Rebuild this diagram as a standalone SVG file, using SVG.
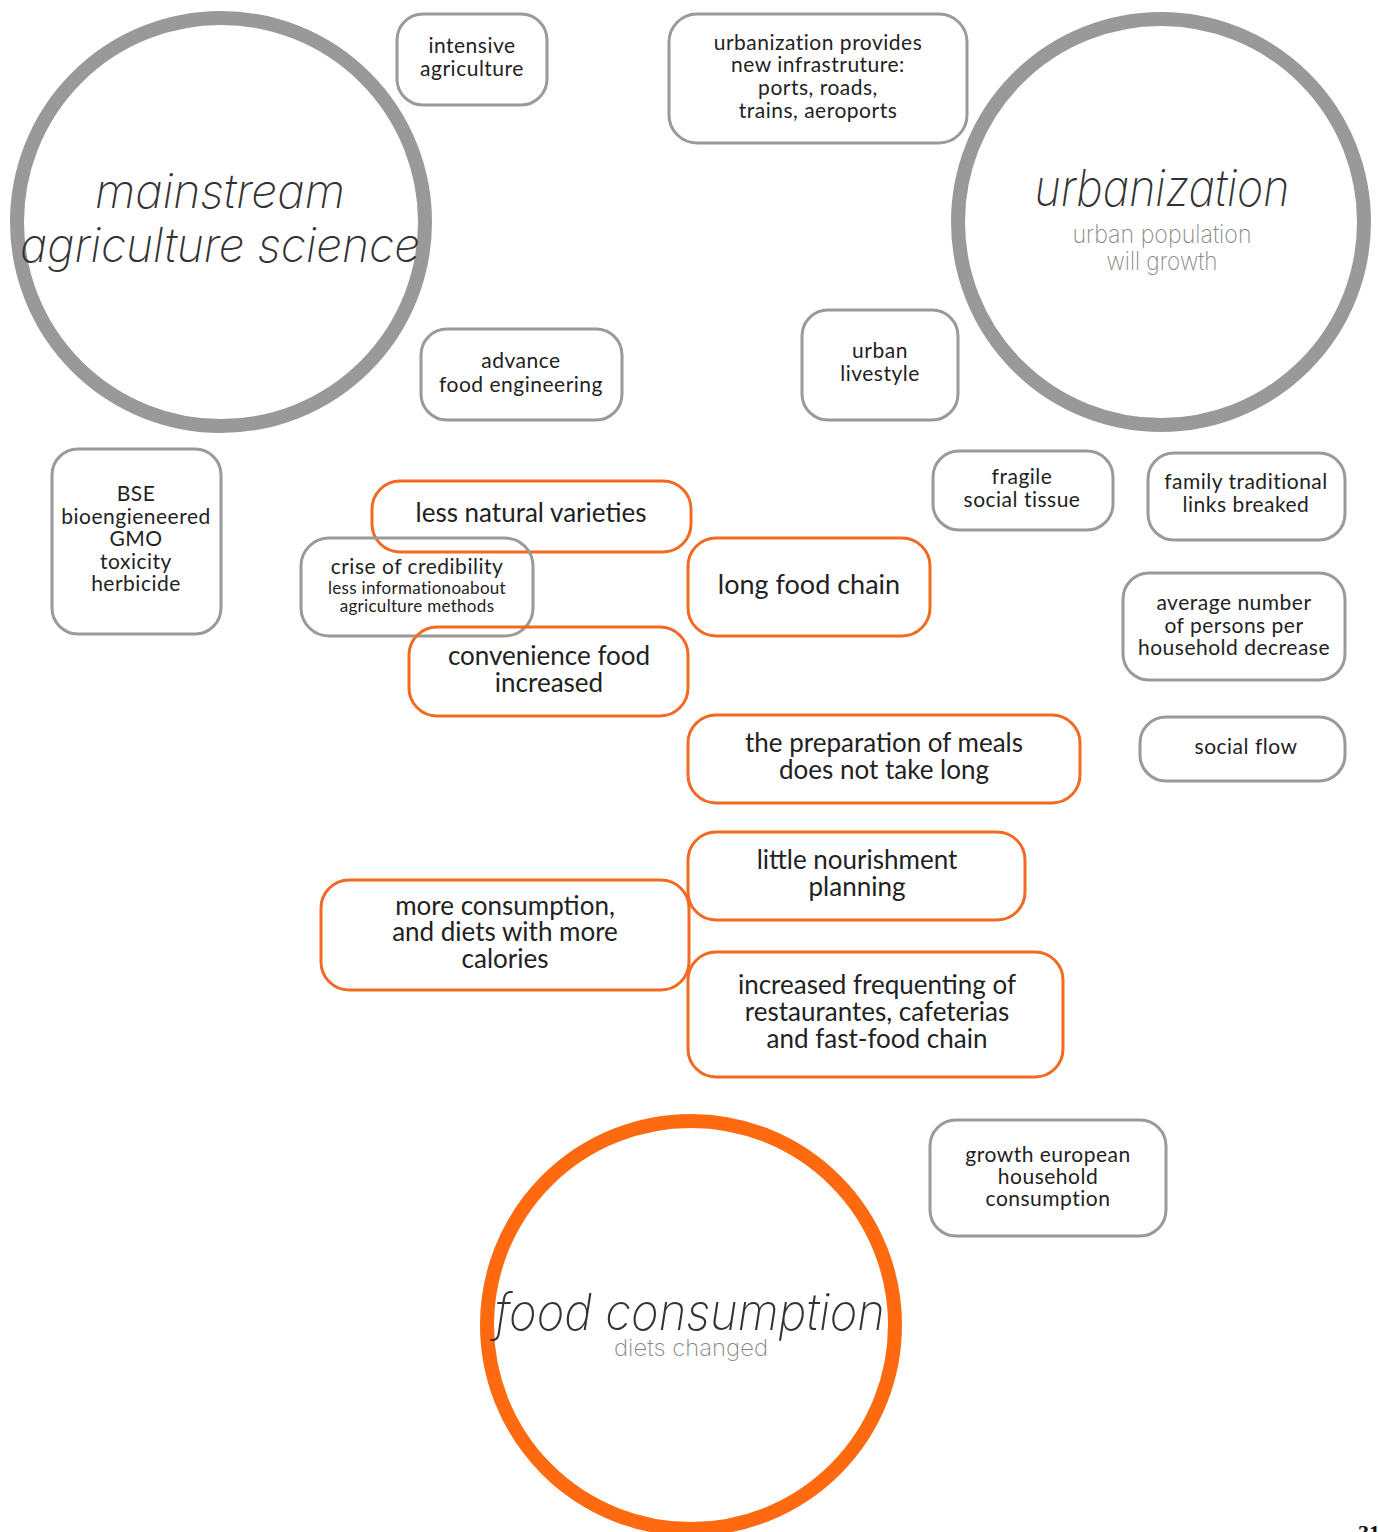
<svg xmlns="http://www.w3.org/2000/svg" width="1378" height="1532" viewBox="0 0 1378 1532">
  <style>
    .bg { fill: #ffffff; }
    .hub-grey { fill: none; stroke: #999999; stroke-width: 14; }
    .hub-orange { fill: none; stroke: #ff6a10; stroke-width: 14; }
    .box-grey { fill: none; stroke: #9a9a9a; stroke-width: 3; }
    .box-orange { fill: none; stroke: #f26a21; stroke-width: 3; }
    .t { font-family: "Lato", "Open Sans", "Liberation Sans", sans-serif; fill: #222222; text-anchor: middle; }
    .s { font-size: 21px; letter-spacing: 0.5px; }
    .m { font-size: 26px; }
    .xs { font-size: 17px; letter-spacing: 0.3px; }
    .title { font-family: "Inter", "Liberation Sans", sans-serif; font-weight: 200; font-style: italic; fill: #333333; text-anchor: middle; }
    .sub { font-family: "Inter", "Liberation Sans", sans-serif; font-weight: 200; fill: #888888; text-anchor: middle; }
    .page { font-family: "Liberation Serif", serif; font-weight: bold; font-size: 22px; fill: #111111; }
  </style>
  <rect class="bg" x="0" y="0" width="1378" height="1532"/>

  <!-- hubs -->
  <g id="hub-agriculture">
    <circle class="hub-grey" cx="221" cy="222" r="204"/>
    <text class="title" x="220" y="208" font-size="48" textLength="250" lengthAdjust="spacingAndGlyphs">mainstream</text>
    <text class="title" x="220" y="262" font-size="48" textLength="400" lengthAdjust="spacingAndGlyphs">agriculture science</text>
  </g>
  <g id="hub-urbanization">
    <circle class="hub-grey" cx="1161" cy="222" r="203"/>
    <text class="title" x="1162" y="206" font-size="50" textLength="255" lengthAdjust="spacingAndGlyphs">urbanization</text>
    <text class="sub" x="1162" y="243" font-size="25" textLength="179" lengthAdjust="spacingAndGlyphs">urban population</text>
    <text class="sub" x="1162" y="270" font-size="25" textLength="111" lengthAdjust="spacingAndGlyphs">will growth</text>
  </g>
  <g id="hub-food-consumption">
    <circle class="hub-orange" cx="691" cy="1325" r="204"/>
    <text class="title" x="690" y="1330" font-size="50" textLength="390" lengthAdjust="spacingAndGlyphs">food consumption</text>
    <text class="sub" x="691" y="1356" font-size="23" textLength="154" lengthAdjust="spacingAndGlyphs">diets changed</text>
  </g>

  <!-- grey factor boxes -->
  <g id="intensive-agriculture">
    <rect class="box-grey" x="397" y="14" width="150" height="91" rx="26"/>
    <text class="t s" x="472" y="53">intensive</text>
    <text class="t s" x="472" y="76">agriculture</text>
  </g>
  <g id="urban-infrastructure">
    <rect class="box-grey" x="669" y="14" width="298" height="129" rx="28"/>
    <text class="t s" x="818" y="50">urbanization provides</text>
    <text class="t s" x="818" y="72">new infrastruture:</text>
    <text class="t s" x="818" y="95">ports, roads,</text>
    <text class="t s" x="818" y="118">trains, aeroports</text>
  </g>
  <g id="food-engineering">
    <rect class="box-grey" x="421" y="329" width="201" height="91" rx="26"/>
    <text class="t s" x="521" y="368">advance</text>
    <text class="t s" x="521" y="392">food engineering</text>
  </g>
  <g id="urban-livestyle">
    <rect class="box-grey" x="802" y="310" width="156" height="110" rx="26"/>
    <text class="t s" x="880" y="358">urban</text>
    <text class="t s" x="880" y="381">livestyle</text>
  </g>
  <g id="bse-gmo">
    <rect class="box-grey" x="52" y="449" width="169" height="185" rx="26"/>
    <text class="t s" x="136" y="501">BSE</text>
    <text class="t s" x="136" y="524">bioengieneered</text>
    <text class="t s" x="136" y="546">GMO</text>
    <text class="t s" x="136" y="569">toxicity</text>
    <text class="t s" x="136" y="591">herbicide</text>
  </g>
  <g id="fragile-social-tissue">
    <rect class="box-grey" x="933" y="451" width="180" height="79" rx="26"/>
    <text class="t s" x="1022" y="484">fragile</text>
    <text class="t s" x="1022" y="507">social tissue</text>
  </g>
  <g id="family-links">
    <rect class="box-grey" x="1148" y="453" width="197" height="87" rx="26"/>
    <text class="t s" x="1246" y="489">family traditional</text>
    <text class="t s" x="1246" y="512">links breaked</text>
  </g>
  <g id="average-household">
    <rect class="box-grey" x="1123" y="573" width="222" height="107" rx="26"/>
    <text class="t s" x="1234" y="610">average number</text>
    <text class="t s" x="1234" y="633">of persons per</text>
    <text class="t s" x="1234" y="655">household decrease</text>
  </g>
  <g id="social-flow">
    <rect class="box-grey" x="1140" y="717" width="205" height="64" rx="26"/>
    <text class="t s" x="1246" y="754">social flow</text>
  </g>
  <g id="european-consumption">
    <rect class="box-grey" x="930" y="1120" width="236" height="116" rx="26"/>
    <text class="t s" x="1048" y="1162">growth european</text>
    <text class="t s" x="1048" y="1184">household</text>
    <text class="t s" x="1048" y="1206">consumption</text>
  </g>

  <!-- orange effect boxes -->
  <g id="less-natural-varieties">
    <rect class="box-orange" x="372" y="481" width="319" height="71" rx="28"/>
    <text class="t m" x="531" y="522">less natural varieties</text>
  </g>
  <g id="crise-of-credibility">
    <rect class="box-grey" x="301" y="538" width="232" height="98" rx="28"/>
    <text class="t s" x="417" y="574">crise of credibility</text>
    <text class="t xs" x="417" y="594">less informationoabout</text>
    <text class="t xs" x="417" y="612">agriculture methods</text>
  </g>
  <g id="long-food-chain">
    <rect class="box-orange" x="688" y="538" width="242" height="98" rx="28"/>
    <text class="t" x="809" y="594" font-size="27">long food chain</text>
  </g>
  <g id="convenience-food">
    <rect class="box-orange" x="409" y="627" width="279" height="89" rx="28"/>
    <text class="t m" x="549" y="665">convenience food</text>
    <text class="t m" x="549" y="692">increased</text>
  </g>
  <g id="meal-preparation">
    <rect class="box-orange" x="688" y="715" width="392" height="88" rx="28"/>
    <text class="t m" x="884" y="752">the preparation of meals</text>
    <text class="t m" x="884" y="779">does not take long</text>
  </g>
  <g id="nourishment-planning">
    <rect class="box-orange" x="688" y="832" width="337" height="88" rx="28"/>
    <text class="t m" x="857" y="869">little nourishment</text>
    <text class="t m" x="857" y="896">planning</text>
  </g>
  <g id="more-consumption">
    <rect class="box-orange" x="321" y="880" width="368" height="110" rx="28"/>
    <text class="t m" x="505" y="915">more consumption,</text>
    <text class="t m" x="505" y="941">and diets with more</text>
    <text class="t m" x="505" y="968">calories</text>
  </g>
  <g id="restaurant-frequenting">
    <rect class="box-orange" x="688" y="952" width="375" height="125" rx="28"/>
    <text class="t m" x="877" y="994">increased frequenting of</text>
    <text class="t m" x="877" y="1021">restaurantes, cafeterias</text>
    <text class="t m" x="877" y="1048">and fast-food chain</text>
  </g>

  <!-- no connectors are drawn between the nodes -->
  <g id="connectors"/>

  <text class="page" x="1358" y="1540">31</text>
</svg>
